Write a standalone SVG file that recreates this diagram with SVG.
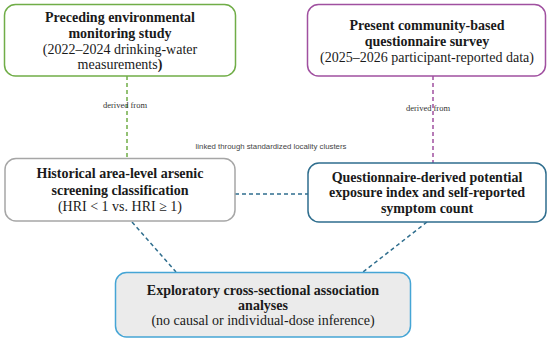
<svg xmlns="http://www.w3.org/2000/svg" width="550" height="342" viewBox="0 0 550 342">
<style>
.t{font-family:"Liberation Serif","Times New Roman",serif;font-size:14px;fill:#1a1a1a;text-anchor:middle}
.b{font-weight:bold}
.s{font-family:"Liberation Serif",serif;font-size:8.5px;fill:#333;text-anchor:middle}
.ss{font-family:"Liberation Sans",Arial,sans-serif;font-size:7.8px;fill:#444;text-anchor:middle}
.c{fill:none;stroke-width:1.5;stroke-dasharray:4,3}
</style>
<rect width="550" height="342" fill="#fff"/>
<g id="connectors">
<line class="c" x1="127" y1="76" x2="127" y2="158" stroke="#70ad47"/>
<line class="c" x1="433" y1="76" x2="433" y2="163" stroke="#a050a0"/>
<line class="c" x1="235" y1="194" x2="308" y2="194" stroke="#2f6e8e"/>
<line class="c" x1="132" y1="222" x2="176" y2="272" stroke="#2f6e8e"/>
<line class="c" x1="427" y1="222" x2="363" y2="272" stroke="#2f6e8e"/>
<text class="s" x="125" y="108">derived from</text>
<text class="s" x="428" y="111">derived from</text>
<text class="ss" x="271" y="149">linked through standardized locality clusters</text>
</g>
<g id="n1">
<rect x="4.5" y="4.5" width="231" height="71.5" rx="11" fill="#fff" stroke="#70ad47" stroke-width="1.5"/>
<text class="t b" x="120" y="22">Preceding environmental</text>
<text class="t b" x="120" y="38">monitoring study</text>
<text class="t" x="120" y="54">(2022–2024 drinking-water</text>
<text class="t" x="120" y="69">measurements<tspan class="b">)</tspan></text>
</g>
<g id="n2">
<rect x="307.5" y="4.5" width="238" height="71.5" rx="11" fill="#fff" stroke="#a050a0" stroke-width="1.5"/>
<text class="t b" x="427" y="30">Present community-based</text>
<text class="t b" x="427" y="46">questionnaire survey</text>
<text class="t" x="427" y="62">(2025–2026 participant-reported data)</text>
</g>
<g id="n3">
<rect x="5" y="158.5" width="230" height="62.5" rx="11" fill="#fff" stroke="#a6a6a6" stroke-width="1.5"/>
<text class="t b" x="120" y="178">Historical area-level arsenic</text>
<text class="t b" x="120" y="195">screening classification</text>
<text class="t" x="120" y="211">(HRI &lt; 1 vs. HRI ≥ 1)</text>
</g>
<g id="n4">
<rect x="308" y="163" width="238" height="59" rx="11" fill="#fff" stroke="#2f6e8e" stroke-width="1.5"/>
<text class="t b" x="427" y="182">Questionnaire-derived potential</text>
<text class="t b" x="427" y="197">exposure index and self-reported</text>
<text class="t b" x="427" y="213">symptom count</text>
</g>
<g id="n5">
<rect x="115.5" y="272.5" width="295" height="64.5" rx="11" fill="#ebebeb" stroke="#45a5d5" stroke-width="1.5"/>
<text class="t b" x="263" y="295">Exploratory cross-sectional association</text>
<text class="t b" x="263" y="310">analyses</text>
<text class="t" x="263" y="325">(no causal or individual-dose inference)</text>
</g>
</svg>
